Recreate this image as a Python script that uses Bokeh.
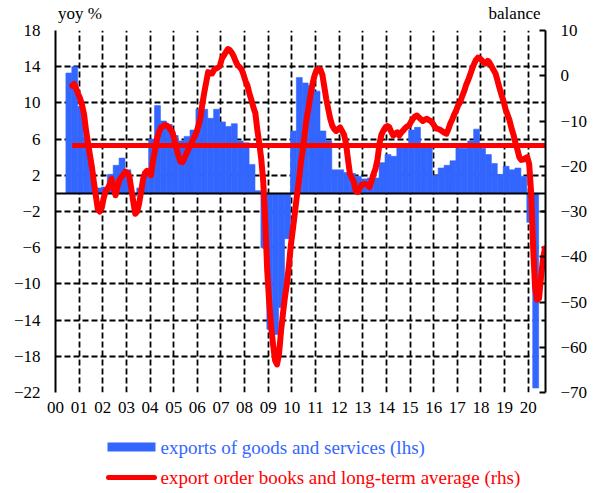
from bokeh.plotting import figure
from bokeh.models import Range1d, LinearAxis, FixedTicker
from bokeh.layouts import column
from bokeh.embed import file_html
from bokeh.resources import INLINE
from bokeh.core.properties import value

FONT = "Liberation Serif"
BLUE = "#3366FF"
RED = "#FF0000"

# ---------------- data ----------------
x_tick_labels = ["00", "01", "02", "03", "04", "05", "06", "07", "08", "09", "10",
                 "11", "12", "13", "14", "15", "16", "17", "18", "19", "20"]
left_ticks = [-22, -18, -14, -10, -6, -2, 2, 6, 10, 14, 18]
right_ticks = [-70, -60, -50, -40, -30, -20, -10, 0, 10]

# exports of goods and services, yoy %, quarterly from 2000Q3 (lhs)
exports_start_year, exports_start_q = 2000, 3
exports_yoy = [
    13.3, 14.0,                      # 2000 Q3-Q4
    9.6, 6.2, 2.2, 0.6,              # 2001
    0.7, 2.1, 3.1, 3.9,              # 2002
    2.6, -0.3, 0.6, 2.4,             # 2003
    6.0, 9.7, 8.0, 7.6,              # 2004
    6.4, 5.8, 6.3, 7.0,              # 2005
    9.3, 9.3, 8.3, 9.3,              # 2006
    7.9, 7.4, 7.7, 5.8,              # 2007
    5.6, 3.2, 0.3, -6.0,             # 2008
    -15.0, -15.6, -12.6, -5.0,       # 2009
    6.9, 12.8, 12.2, 11.9,           # 2010
    11.3, 6.9, 5.8, 2.6,             # 2011
    2.6, 2.3, 2.2, 1.9,              # 2012
    1.6, 1.7, 1.7, 3.4,              # 2013
    4.3, 4.1, 5.3, 5.5,              # 2014
    7.0, 7.3, 5.4, 5.2,              # 2015
    2.0, 2.8, 3.1, 3.6,              # 2016
    5.0, 5.0, 5.8, 7.1,              # 2017
    5.0, 4.3, 3.3, 2.1,              # 2018
    3.0, 2.6, 2.8, 1.9,              # 2019
    -3.2, -21.5,                     # 2020 Q1-Q2
]

# export order books, balance, monthly from Sep 2000 (rhs)
orders_start_year, orders_start_month = 2000, 9
order_books = [
    -2.2, -1.8, -2.8, -4.0,                                                   # 2000 Sep-Dec
    -5.0, -6.5, -8.5, -12.0, -14.8, -17.5, -20.2, -23.5, -26.5, -29.5, -30.0, -29.2,  # 2001
    -27.0, -25.4, -25.0, -24.0, -22.8, -24.8, -26.4, -24.5, -23.0, -22.4, -21.8, -21.2,  # 2002
    -21.5, -22.2, -25.0, -27.8, -30.5, -30.0, -28.2, -25.5, -22.8, -21.5, -21.0, -21.3,  # 2003
    -22.0, -18.8, -16.5, -14.0, -12.5, -11.5, -11.2, -10.9, -11.0, -11.3, -12.0, -12.6,  # 2004
    -14.5, -16.2, -17.8, -19.0, -19.1, -18.2, -17.2, -16.2, -15.4, -14.4, -13.5, -12.6,  # 2005
    -11.2, -9.5, -6.5, -3.8, -1.5, 0.8, 0.6, 0.5, 1.3, 1.6, 1.8, 2.2,                 # 2006
    3.8, 4.5, 5.2, 5.9, 5.7, 5.1, 4.3, 3.2, 2.3, 1.9, 1.4, 0.2,                       # 2007
    -1.2, -2.2, -4.0, -5.4, -7.0, -8.3, -12.0, -15.0, -18.5, -23.5, -32.0, -43.0,     # 2008
    -50.0, -55.5, -59.5, -62.9, -63.8, -61.5, -56.5, -52.5, -49.0, -46.0, -42.0, -37.5,  # 2009
    -34.0, -30.5, -26.8, -23.5, -19.5, -16.5, -13.0, -9.5, -7.0, -4.2, -1.8, 0.0,     # 2010
    1.2, 1.5, 1.4, 0.2, -2.5, -5.2, -7.4, -9.5, -11.0, -11.8, -12.2, -11.8,           # 2011
    -11.4, -12.2, -13.0, -15.0, -18.5, -21.7, -22.6, -23.5, -25.5, -25.7, -24.8, -24.1,  # 2012
    -23.9, -23.9, -24.2, -24.6, -23.2, -21.7, -20.5, -18.5, -15.0, -13.0, -12.1, -11.4,  # 2013
    -11.1, -11.4, -12.4, -13.2, -12.8, -12.5, -13.2, -12.6, -12.1, -11.6, -11.2, -11.0,  # 2014
    -10.2, -9.5, -9.0, -8.8, -9.2, -9.6, -10.0, -9.7, -9.5, -9.8, -10.0, -10.5,       # 2015
    -11.2, -11.7, -11.8, -12.0, -12.3, -12.6, -12.8, -11.8, -10.5, -9.6, -8.5, -7.6,  # 2016
    -6.5, -5.8, -4.5, -3.4, -2.0, -1.0, 0.2, 1.5, 2.6, 3.5, 4.0, 3.8,                 # 2017
    3.4, 2.9, 2.7, 3.3, 2.8, 2.0, 1.2, 0.4, -1.2, -2.8, -4.3, -5.6,                   # 2018
    -7.4, -8.6, -9.8, -11.6, -13.0, -14.8, -16.3, -18.0, -18.6, -18.5, -18.2, -18.0,  # 2019
    -19.5, -26.0, -38.0, -47.0, -49.5, -49.2, -44.5, -40.5, -38.2,                   # 2020 Jan-Sep
]
order_books_avg = -15.4

lhs_title = "yoy %"
rhs_title = "balance"
legend_labels = ["exports of goods and services (lhs)",
                 "export order books and long-term average (rhs)"]

# ---------------- positions on the year axis ----------------
def quarter_pos(year, q):
    return (year - 2000) + (q - 1) / 4 + 0.065

def month_pos(year, m):
    return (year - 2000) + (m - 1) / 12 + 0.04

ex_x = []
yy, qq = exports_start_year, exports_start_q
for _ in exports_yoy:
    ex_x.append(quarter_pos(yy, qq))
    qq += 1
    if qq > 4:
        qq, yy = 1, yy + 1

ob_x = []
yy, mm = orders_start_year, orders_start_month
for _ in order_books:
    ob_x.append(month_pos(yy, mm))
    mm += 1
    if mm > 12:
        mm, yy = 1, yy + 1
ob_avg = [order_books_avg] * len(order_books)

W = 590
FRAME_L, FRAME_R = 55, 545   # frame edges in page pixels (shared by the column)
LEG_TOP, LEG_BOT = 428, 490
X_END = 20.73
# where the two axis titles sit (centre, in axis units)
title_pos = [1.03, 19.42]

# ---------------- main chart ----------------
p = figure(width=W, height=LEG_TOP, x_range=Range1d(0, X_END), y_range=Range1d(-22, 18),
           output_backend="svg", toolbar_location=None, title=None,
           min_border_left=FRAME_L, min_border_right=W - FRAME_R,
           min_border_top=30, min_border_bottom=36)
p.extra_y_ranges = {"rhs": Range1d(-70, 10)}
p.outline_line_color = None

# bottom axis
xa = p.xaxis[0]
xa.ticker = FixedTicker(ticks=list(range(len(x_tick_labels))))
xa.major_label_overrides = {i: lab for i, lab in enumerate(x_tick_labels)}
xa.axis_line_color = None
xa.major_tick_in = 0
xa.major_tick_out = 0
xa.minor_tick_in = 0
xa.minor_tick_out = 0
xa.major_label_standoff = 9
xa.major_label_text_font = FONT
xa.major_label_text_font_size = "17px"
xa.major_label_text_color = "black"

# top "axis" carrying the two axis titles
ta = LinearAxis(ticker=FixedTicker(ticks=title_pos),
                major_label_overrides={title_pos[0]: lhs_title, title_pos[1]: rhs_title})
ta.axis_line_color = None
ta.major_tick_in = 0
ta.major_tick_out = 0
ta.minor_tick_in = 0
ta.minor_tick_out = 0
ta.major_label_standoff = 8
ta.major_label_text_font = FONT
ta.major_label_text_font_size = "17px"
ta.major_label_text_color = "black"
p.add_layout(ta, "above")

# left axis
ya = p.yaxis[0]
ya.ticker = FixedTicker(ticks=left_ticks)
ya.axis_line_width = 2
ya.axis_line_color = "black"
ya.major_tick_in = 0
ya.major_tick_out = 0
ya.minor_tick_in = 0
ya.minor_tick_out = 0
ya.major_label_standoff = 15
ya.major_label_text_font = FONT
ya.major_label_text_font_size = "17px"
ya.major_label_text_color = "black"

# right axis
ra = LinearAxis(y_range_name="rhs", ticker=FixedTicker(ticks=right_ticks))
ra.axis_line_width = 2
ra.axis_line_color = "black"
ra.major_tick_in = 6
ra.major_tick_out = 0
ra.major_tick_line_width = 2
ra.minor_tick_in = 0
ra.minor_tick_out = 0
ra.major_label_standoff = 15
ra.major_label_text_font = FONT
ra.major_label_text_font_size = "17px"
ra.major_label_text_color = "black"
p.add_layout(ra, "right")

# grids
p.xgrid.ticker = FixedTicker(ticks=list(range(1, len(x_tick_labels))))
p.ygrid.ticker = FixedTicker(ticks=left_ticks)
for g in (p.xgrid[0], p.ygrid[0]):
    g.grid_line_color = "black"
    g.grid_line_dash = "6 3"
    g.grid_line_width = 1.8

# bars
p.vbar(x=ex_x, top=exports_yoy, bottom=0, width=0.25,
       fill_color=BLUE, line_color=BLUE, line_width=0.6)

# zero line
p.hspan(y=[0], line_color="black", line_width=2)

# long-term average and order books
p.line(ob_x, ob_avg, y_range_name="rhs", line_color=RED, line_width=5)
p.line(ob_x, order_books, y_range_name="rhs", line_color=RED, line_width=6,
       line_join="round", line_cap="round")

# ---------------- legend ----------------
lg = figure(width=W, height=LEG_BOT - LEG_TOP, x_range=Range1d(FRAME_L, FRAME_R),
            y_range=Range1d(LEG_BOT, LEG_TOP), title=None,
            output_backend="svg", toolbar_location=None, min_border=0,
            x_axis_type=None, y_axis_type=None)
lg.outline_line_color = None
lg.quad(left=[107], right=[155], top=[442], bottom=[451], fill_color=BLUE, line_color=None)
lg.segment(x0=[108], x1=[154], y0=[477], y1=[477], line_color=RED, line_width=5,
           line_cap="round")
lg.text(x=[160, 160], y=[447, 477], text=legend_labels,
        text_color=[BLUE, RED], text_font=value(FONT), text_font_size="19px",
        text_baseline="middle", text_align="left")

layout = column(p, lg, spacing=0)
open("out.html", "w").write(file_html(layout, INLINE))
